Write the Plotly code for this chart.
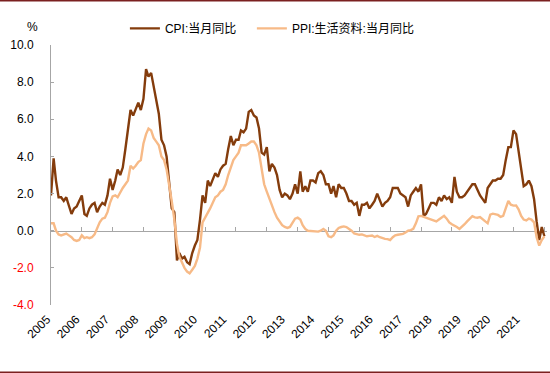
import pandas as pd
import plotly.graph_objects as go

months = pd.date_range("2005-01-01", "2021-01-01", freq="MS")

cpi = [
    1.9, 3.9, 2.7, 1.8, 1.8, 1.6, 1.8, 1.3, 0.9, 1.2, 1.3, 1.6,
    1.9, 0.9, 0.8, 1.2, 1.4, 1.5, 1.0, 1.3, 1.5, 1.4, 1.9, 2.8,
    2.2, 2.7, 3.3, 3.0, 3.4, 4.4, 5.6, 6.5, 6.2, 6.5, 6.9, 6.5,
    7.1, 8.7, 8.3, 8.5, 7.7, 7.1, 6.3, 4.9, 4.6, 4.0, 2.4, 1.2,
    1.0, -1.6, -1.2, -1.5, -1.4, -1.7, -1.8, -1.2, -0.8, -0.5, 0.6, 1.9,
    1.5, 2.7, 2.4, 2.8, 3.1, 2.9, 3.3, 3.5, 3.6, 4.4, 5.1, 4.6,
    4.9, 4.9, 5.4, 5.3, 5.5, 6.4, 6.5, 6.2, 6.1, 5.5, 4.2, 4.1,
    4.5, 3.2, 3.6, 3.4, 3.0, 2.2, 1.8, 2.0, 1.9, 1.7, 2.0, 2.5,
    2.0, 3.2, 2.1, 2.4, 2.1, 2.7, 2.7, 2.6, 3.1, 3.2, 3.0, 2.5,
    2.5, 2.0, 2.4, 1.8, 2.5, 2.3, 2.3, 2.0, 1.6, 1.6, 1.4, 1.5,
    0.8, 1.4, 1.4, 1.5, 1.2, 1.4, 1.6, 2.0, 1.6, 1.3, 1.5, 1.6,
    1.8, 2.3, 2.3, 2.3, 2.0, 1.9, 1.8, 1.3, 1.9, 2.1, 2.3, 2.1,
    2.5, 0.8, 0.9, 1.2, 1.5, 1.5, 1.4, 1.8, 1.6, 1.9, 1.7, 1.8,
    1.5, 2.9, 2.1, 1.8, 1.8, 1.9, 2.1, 2.3, 2.5, 2.5, 2.2, 1.9,
    1.7, 1.5, 2.3, 2.5, 2.7, 2.7, 2.8, 2.8, 3.0, 3.8, 4.5, 4.5,
    5.4, 5.2, 4.3, 3.3, 2.4, 2.5, 2.7, 2.4, 1.7, 0.5, -0.5, 0.2,
    -0.3,
]

ppi_consumer = [
    0.4, 0.4, 0.0, -0.2, -0.25, -0.2, -0.15, -0.25, -0.35, -0.5, -0.55, -0.5,
    -0.25, -0.4, -0.35, -0.4, -0.35, -0.2, 0.1, 0.45, 0.65, 0.7, 1.0, 1.5,
    1.85, 1.9, 1.8, 2.1, 2.3, 2.5, 2.7, 3.5, 3.35, 3.5, 3.7, 3.8,
    4.7, 5.2, 5.5, 5.4, 5.0, 4.8, 4.6, 4.0, 3.8, 3.3, 2.5, 1.6,
    0.6, -0.7, -1.4, -1.7, -2.0, -2.2, -2.3, -2.1, -1.9, -1.5, -0.9, 0.45,
    0.7, 0.9, 1.2, 1.5, 1.8, 1.9, 2.1, 2.2, 2.5, 3.0, 3.4, 3.8,
    4.0, 4.2, 4.6, 4.6, 4.6, 4.7, 4.8, 4.8, 4.6, 4.2, 3.3, 2.5,
    2.1, 1.7, 1.3, 1.0, 0.7, 0.5, 0.3, 0.2, 0.15, 0.2, 0.45, 0.65,
    0.7, 0.6, 0.3, 0.1, 0.0, -0.02, 0.0, -0.05, -0.05, 0.0, 0.1, 0.0,
    -0.3, -0.35, -0.25, 0.0, 0.15, 0.2, 0.23, 0.2, 0.1, 0.0, -0.15, -0.2,
    -0.22, -0.2, -0.25, -0.3, -0.28, -0.26, -0.34, -0.28, -0.35, -0.4, -0.44, -0.45,
    -0.5, -0.35, -0.25, -0.22, -0.2, -0.17, -0.1, 0.0, 0.03, 0.1, 0.4, 0.78,
    0.8, 0.75, 0.7, 0.65, 0.6, 0.55, 0.5, 0.6, 0.68, 0.8, 0.65, 0.45,
    0.35, 0.28, 0.2, 0.1, 0.2, 0.35, 0.5, 0.65, 0.78, 0.72, 0.7, 0.74,
    0.6, 0.5, 0.4, 0.87, 0.92, 0.9, 0.85, 0.75, 0.8, 1.2, 1.6, 1.4,
    1.35, 1.36, 1.15, 0.8, 0.6, 0.55, 0.65, 0.6, 0.45, -0.35, -0.8, -0.5,
    -0.3,
]

year_labels = [str(y) for y in range(2005, 2022)]
y_ticks = [10, 8, 6, 4, 2, 0, -2, -4]

FONT = "Arial, 'Liberation Sans', 'Noto Sans CJK SC', sans-serif"
AXIS_GREY = "#A6A6A6"

fig = go.Figure()
fig.add_trace(go.Scatter(x=months, y=cpi, mode="lines", name="CPI:当月同比",
                         legend="legend", line=dict(color="#843C0C", width=2.4)))
fig.add_trace(go.Scatter(x=months, y=ppi_consumer, mode="lines", name="PPI:生活资料:当月同比",
                         legend="legend2", line=dict(color="#F7BA87", width=2.4)))
# invisible trace to carry the zero-line axis with yearly tick marks
fig.add_trace(go.Scatter(x=[months[0]], y=[0], xaxis="x2", mode="lines",
                         showlegend=False, hoverinfo="skip", line=dict(width=0)))

x_range = [pd.Timestamp("2005-01-01"), pd.Timestamp("2021-02-01")]

# label anchor positions (slightly compressed spacing, as in the original)
label_pos = [pd.Timestamp("2005-01-01") + pd.Timedelta(days=365.25 * 0.951 * k)
             for k in range(len(year_labels))]

def ylab(v):
    s = f"{v:.1f}"
    return f'<span style="color:#FF0000">{s}</span>' if v < 0 else s

legend_common = dict(orientation="h", xanchor="left", y=1.064, yanchor="middle",
                     font=dict(size=12), bgcolor="rgba(0,0,0,0)", itemwidth=30)

fig.update_layout(
    width=550, height=373,
    margin=dict(l=51, r=3, t=45, b=68),
    paper_bgcolor="white", plot_bgcolor="white",
    font=dict(family=FONT, size=12, color="#000000"),
    showlegend=True,
    legend=dict(x=0.149, **legend_common),
    legend2=dict(x=0.405, **legend_common),
    xaxis=dict(type="date", range=x_range, showline=False, showgrid=False, zeroline=False,
               ticks="", tickmode="array", tickvals=label_pos, ticktext=year_labels,
               tickangle=-45, ticklabelstandoff=4, ticklabelshift=-4,
               tickfont=dict(size=12)),
    xaxis2=dict(type="date", range=x_range, overlaying="x", anchor="free", position=4 / 14,
                side="bottom", showline=True, linecolor=AXIS_GREY, linewidth=1,
                ticks="inside", ticklen=4, tickcolor=AXIS_GREY, tickwidth=1,
                tickmode="array",
                tickvals=[pd.Timestamp(f"{y}-01-01") for y in range(2005, 2022)],
                showticklabels=False, showgrid=False, zeroline=False, layer="below traces"),
    yaxis=dict(range=[-4, 10], showgrid=False, zeroline=False, showline=True,
               linecolor=AXIS_GREY, linewidth=1, ticks="inside", ticklen=3,
               tickcolor=AXIS_GREY, tickmode="array", tickvals=y_ticks,
               ticktext=[ylab(v) for v in y_ticks], ticklabelstandoff=14,
               tickfont=dict(size=12)),
    annotations=[dict(text="%", xref="paper", yref="paper", x=(32 - 51) / 496,
                      y=(304.5 - 28) / 259, xanchor="center", yanchor="middle",
                      showarrow=False, font=dict(size=12))],
    shapes=[
        dict(type="line", xref="paper", yref="paper", x0=-51 / 496, x1=1 + 3 / 496,
             y0=(304.5 - 1.5) / 259, y1=(304.5 - 1.5) / 259,
             line=dict(color="#7B2020", width=1.5)),
        dict(type="line", xref="paper", yref="paper", x0=-51 / 496, x1=1 + 3 / 496,
             y0=(304.5 - 371.5) / 259, y1=(304.5 - 371.5) / 259,
             line=dict(color="#7B2020", width=1.5)),
    ],
)

fig.write_html("out.html", config={"displayModeBar": False},
               post_script="document.body.style.margin='0';document.body.style.overflow='hidden';")
